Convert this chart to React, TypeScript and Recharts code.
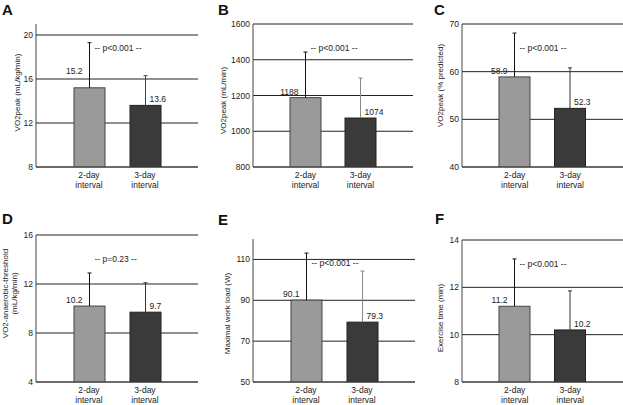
import React from 'react';
import { BarChart, Bar, XAxis, YAxis, CartesianGrid } from 'recharts';

const CATEGORIES = ['2-day interval', '3-day interval'];

// means and upper SD per panel
const VO2_PEAK_KG = [15.2, 13.6];
const VO2_PEAK_KG_SD = [4.1, 2.7];
const VO2_PEAK_ML = [1188, 1074];
const VO2_PEAK_ML_SD = [255, 224];
const VO2_PEAK_PRED = [58.9, 52.3];
const VO2_PEAK_PRED_SD = [9.2, 8.5];
const VO2_AT = [10.2, 9.7];
const VO2_AT_SD = [2.7, 2.4];
const WORK_LOAD = [90.1, 79.3];
const WORK_LOAD_SD = [23, 25];
const EXERCISE_TIME = [11.2, 10.2];
const EXERCISE_TIME_SD = [2.0, 1.65];

const TICKS_A = [8, 12, 16, 20];
const TICKS_B = [800, 1000, 1200, 1400, 1600];
const TICKS_C = [40, 50, 60, 70];
const TICKS_D = [4, 8, 12, 16];
const TICKS_E = [50, 70, 90, 110];
const TICKS_F = [8, 10, 12, 14];

const P_TEXTS = ['-- p<0.001 --', '-- p<0.001 --', '-- p<0.001 --', '-- p=0.23 --', '-- p<0.001 --', '-- p<0.001 --'];

const FONT = '"Liberation Sans", Arial, Helvetica, sans-serif';
const FS = 8.5;
const LABEL_FS = 8;
const LIGHT = '#9a9a9a';
const DARK = '#3a3a3a';

interface PanelProps {
  letter: string;
  yLabel: string[];
  values: number[];
  sds: number[];
  ticks: number[];
  domain: [number, number];
  pText: string;
  left: number;
  top: number;
  width: number;
  height: number;
  plotLeft: number;
  plotRight: number;
  plotTop: number;
  plotBottom: number;
  yLabelX: number;
  yLabelDy: number;
  darkErr: string;
  lightLift?: number;
}

const XTick = ({ x, y, payload }: any) => {
  const [l1, l2] = String(payload.value).split(' ');
  return (
    <text x={x} y={y} textAnchor="middle" fontSize={FS} fill="#222">
      <tspan x={x} dy={11}>{l1}</tspan>
      <tspan x={x} dy={10}>{l2}</tspan>
    </text>
  );
};

const Panel: React.FC<PanelProps> = (p) => {
  const mTop = p.plotTop - p.top;
  const mRight = p.left + p.width - p.plotRight;
  const yW = p.plotLeft - p.left;
  const xH = p.height - (p.plotBottom - p.top);
  const plotH = p.plotBottom - p.plotTop;
  const data = CATEGORIES.map((name, i) => ({ name, value: p.values[i], sd: p.sds[i] }));

  const shape = (props: any) => {
    const { x, y, width, height, index, payload } = props;
    const perUnit = height / (payload.value - p.domain[0]);
    const errTop = y - payload.sd * perUnit;
    const cx = x + width / 2;
    const light = index === 0;
    const errColor = light ? '#111' : p.darkErr;
    return (
      <g>
        <rect x={x} y={y} width={width} height={height} fill={light ? LIGHT : DARK} stroke={light ? '#444' : '#222'} strokeWidth={1} />
        <line x1={cx} y1={y} x2={cx} y2={errTop} stroke={errColor} strokeWidth={1} />
        <line x1={cx - 2} y1={errTop} x2={cx + 2} y2={errTop} stroke={errColor} strokeWidth={1} />
        {light ? (
          <>
            <text x={cx - 7} y={y - (p.lightLift ?? 3)} textAnchor="end" fontSize={FS} fill="#222">{payload.value}</text>
            <text x={cx + 5} y={mTop + 27} textAnchor="start" fontSize={FS} fill="#222">{p.pText}</text>
          </>
        ) : (
          <text x={cx + 4} y={y - 3} textAnchor="start" fontSize={FS} fill="#222">{payload.value}</text>
        )}
      </g>
    );
  };

  const yLabelContent = () => {
    const cy = mTop + plotH / 2 + p.yLabelDy;
    const n = p.yLabel.length;
    return (
      <g>
        {p.yLabel.map((line, i) => {
          const cx = p.yLabelX - ((n - 1) / 2 - i) * 9;
          return (
            <text key={i} x={cx} y={cy} transform={`rotate(-90, ${cx}, ${cy})`} textAnchor="middle" dominantBaseline="central" fontSize={LABEL_FS} fill="#222">
              {line}
            </text>
          );
        })}
      </g>
    );
  };

  return (
    <div style={{ position: 'absolute', left: p.left, top: p.top }}>
      <BarChart width={p.width} height={p.height} data={data} margin={{ top: mTop, right: mRight, bottom: 0, left: 0 }}>
        <CartesianGrid vertical={false} horizontalValues={p.ticks} stroke="#222" />
        <XAxis
          dataKey="name"
          type="category"
          height={xH}
          padding={{ left: 25, right: 25 }}
          tick={<XTick />}
          tickLine={false}
          tickSize={0}
          tickMargin={0}
          interval={0}
          axisLine={{ stroke: '#444' }}
        />
        <YAxis
          type="number"
          width={yW}
          domain={p.domain}
          ticks={p.ticks}
          allowDataOverflow
          tickLine={false}
          tickSize={0}
          tickMargin={3}
          tick={{ fontSize: FS, fill: '#222' }}
          axisLine={{ stroke: '#444' }}
          label={{ content: yLabelContent }}
        />
        <Bar dataKey="value" barSize={31} shape={shape} isAnimationActive={false} />
      </BarChart>
    </div>
  );
};

const PANELS: PanelProps[] = [
  {
    letter: 'A', yLabel: ['VO2peak (mL/kg/min)'], values: VO2_PEAK_KG, sds: VO2_PEAK_KG_SD, ticks: TICKS_A, domain: [8, 21], pText: P_TEXTS[0],
    left: 0, top: 0, width: 205, height: 200, plotLeft: 36, plotRight: 198, plotTop: 24, plotBottom: 167,
    yLabelX: 17, yLabelDy: -3, darkErr: '#444', lightLift: 14,
  },
  {
    letter: 'B', yLabel: ['VO2peak (mL/min)'], values: VO2_PEAK_ML, sds: VO2_PEAK_ML_SD, ticks: TICKS_B, domain: [800, 1600], pText: P_TEXTS[1],
    left: 205, top: 0, width: 210, height: 200, plotLeft: 253, plotRight: 413, plotTop: 24, plotBottom: 167,
    yLabelX: 18, yLabelDy: 5, darkErr: '#888',
  },
  {
    letter: 'C', yLabel: ['VO2peak (% predicted)'], values: VO2_PEAK_PRED, sds: VO2_PEAK_PRED_SD, ticks: TICKS_C, domain: [40, 70], pText: P_TEXTS[2],
    left: 415, top: 0, width: 208, height: 200, plotLeft: 462, plotRight: 623, plotTop: 24, plotBottom: 167,
    yLabelX: 25, yLabelDy: -10, darkErr: '#333',
  },
  {
    letter: 'D', yLabel: ['VO2-anaerobic-threshold', '(mL/kg/min)'], values: VO2_AT, sds: VO2_AT_SD, ticks: TICKS_D, domain: [4, 16], pText: P_TEXTS[3],
    left: 0, top: 200, width: 205, height: 205, plotLeft: 36, plotRight: 198, plotTop: 235, plotBottom: 382,
    yLabelX: 10, yLabelDy: -15, darkErr: '#333',
  },
  {
    letter: 'E', yLabel: ['Maximal work load (W)'], values: WORK_LOAD, sds: WORK_LOAD_SD, ticks: TICKS_E, domain: [50, 120], pText: P_TEXTS[4],
    left: 205, top: 200, width: 210, height: 205, plotLeft: 253, plotRight: 415, plotTop: 239, plotBottom: 382,
    yLabelX: 22, yLabelDy: 3, darkErr: '#888',
  },
  {
    letter: 'F', yLabel: ['Exercise time (min)'], values: EXERCISE_TIME, sds: EXERCISE_TIME_SD, ticks: TICKS_F, domain: [8, 14], pText: P_TEXTS[5],
    left: 415, top: 200, width: 208, height: 205, plotLeft: 462, plotRight: 623, plotTop: 240, plotBottom: 382,
    yLabelX: 25, yLabelDy: 7, darkErr: '#333',
  },
];

const LETTER_POS = [
  [2, 15], [218, 15], [434, 15], [2, 224], [218, 225], [435, 224],
];

export default function App() {
  return (
    <div style={{ position: 'absolute', left: 0, top: 0, width: 623, height: 405, background: '#fff', fontFamily: FONT, overflow: 'hidden' }}>
      {PANELS.map((panel) => (
        <Panel key={panel.letter} {...panel} />
      ))}
      <svg width={623} height={405} style={{ position: 'absolute', left: 0, top: 0, pointerEvents: 'none' }}>
        {PANELS.map((panel, i) => (
          <text key={panel.letter} x={LETTER_POS[i][0]} y={LETTER_POS[i][1]} fontSize={15} fontWeight="bold" fill="#111" fontFamily={FONT}>
            {panel.letter}
          </text>
        ))}
      </svg>
    </div>
  );
}
